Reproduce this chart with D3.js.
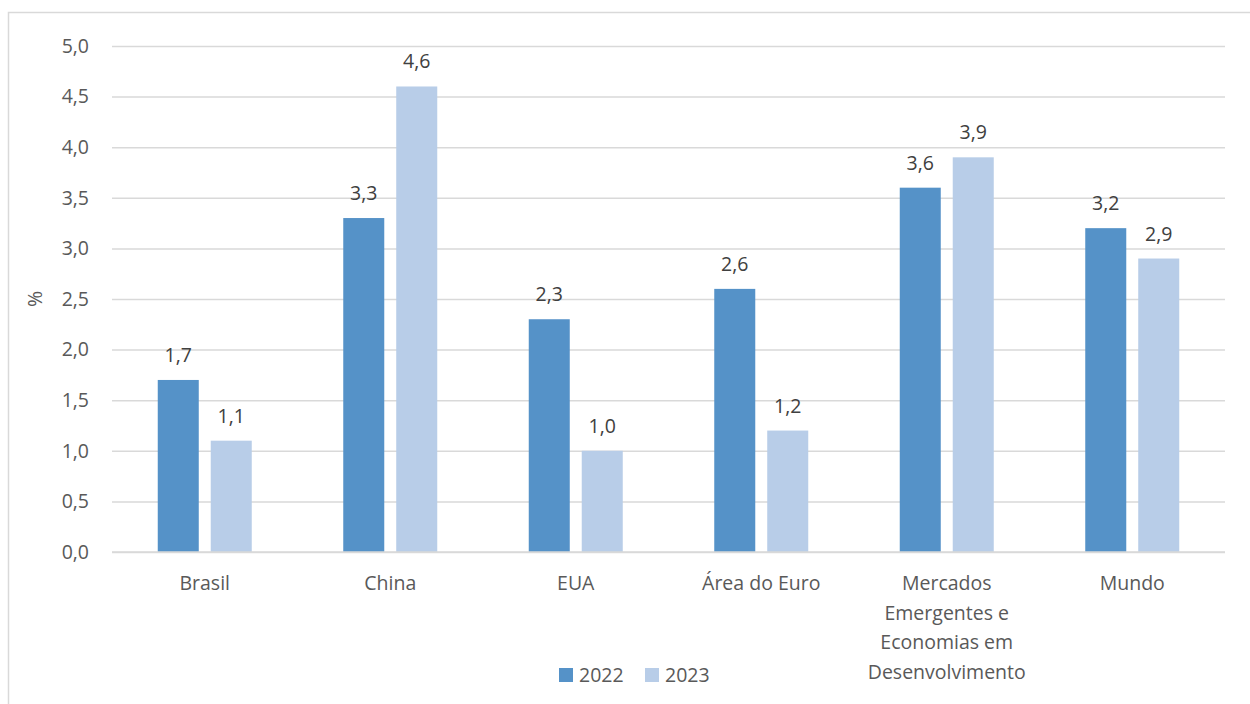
<!DOCTYPE html>
<html>
<head>
<meta charset="utf-8">
<script src="https://cdn.jsdelivr.net/npm/d3@7"></script>
<style>
  body { margin: 0; background: #fff; }
  svg text { font-family: "Open Sans", "Noto Sans", sans-serif; }
</style>
</head>
<body>
<div id="chart"></div>
<script>
// categories and series
const categories = ["Brasil", "China", "EUA", "Área do Euro",
  "Mercados Emergentes e Economias em Desenvolvimento", "Mundo"];
const catLines = [["Brasil"], ["China"], ["EUA"], ["Área do Euro"],
  ["Mercados", "Emergentes e", "Economias em", "Desenvolvimento"], ["Mundo"]];
const series = ["2022", "2023"];
const values2022 = [1.7, 3.3, 2.3, 2.6, 3.6, 3.2];
const values2023 = [1.1, 4.6, 1.0, 1.2, 3.9, 2.9];
const yTicks = [0, 0.5, 1, 1.5, 2, 2.5, 3, 3.5, 4, 4.5, 5];
const colors = ["#5592c8", "#b8cde8"];

const W = 1250, H = 704;
const margin = {top: 46, right: 25, bottom: 152, left: 112};
const width = W - margin.left - margin.right;
const height = H - margin.top - margin.bottom;
const fs = "19.5px";

const svg = d3.select("#chart").append("svg")
  .attr("width", W).attr("height", H);

// outer frame
svg.append("rect")
  .attr("x", 8.5).attr("y", 12.5)
  .attr("width", W + 10).attr("height", H + 10)
  .attr("fill", "none").attr("stroke", "#d9d9d9").attr("stroke-width", 1.5);

const g = svg.append("g").attr("transform", `translate(${margin.left},${margin.top})`);

const x = d3.scaleBand().domain(categories).range([0, width]);
const x1 = d3.scaleBand().domain(series).range([45.75, x.bandwidth() - 45.75]).paddingInner(0.226);
const y = d3.scaleLinear().domain([0, 5]).range([height, 0]);

const fmt = v => d3.format(".1f")(v).replace(".", ",");

// gridlines
g.append("g")
  .call(d3.axisLeft(y).tickValues(yTicks).tickSize(-width).tickFormat(fmt))
  .call(a => a.select(".domain").remove())
  .call(a => a.selectAll(".tick line").attr("stroke", "#d9d9d9").attr("stroke-width", 1.5))
  .call(a => a.selectAll(".tick text").attr("fill", "#595959").style("font-size", fs)
    .attr("x", -23));

const data = categories.map((c, i) => ({cat: c, vals: [values2022[i], values2023[i]]}));

const groups = g.selectAll(".grp").data(data).enter().append("g")
  .attr("transform", d => `translate(${x(d.cat)},0)`);

groups.selectAll("rect").data(d => d.vals.map((v, j) => ({s: series[j], v}))).enter()
  .append("rect")
  .attr("x", d => x1(d.s))
  .attr("width", x1.bandwidth())
  .attr("y", d => y(d.v))
  .attr("height", d => height - y(d.v))
  .attr("fill", (d, j) => colors[j]);

groups.selectAll(".lbl").data(d => d.vals.map((v, j) => ({s: series[j], v}))).enter()
  .append("text")
  .attr("x", d => x1(d.s) + x1.bandwidth() / 2)
  .attr("y", d => y(d.v) - 18)
  .attr("text-anchor", "middle")
  .attr("fill", "#404040")
  .style("font-size", fs)
  .text(d => fmt(d.v));

// baseline
g.append("line")
  .attr("x1", 0).attr("x2", width)
  .attr("y1", height).attr("y2", height)
  .attr("stroke", "#d9d9d9").attr("stroke-width", 1.5);

// category labels
categories.forEach((c, i) => {
  const t = g.append("text")
    .attr("x", x(c) + x.bandwidth() / 2)
    .attr("y", height + 38)
    .attr("text-anchor", "middle")
    .attr("fill", "#595959")
    .style("font-size", fs);
  catLines[i].forEach((ln, k) => {
    t.append("tspan").attr("x", x(c) + x.bandwidth() / 2)
      .attr("dy", k === 0 ? 0 : 29.5).text(ln);
  });
});

// y axis title
svg.append("text")
  .attr("transform", `translate(42,${margin.top + height / 2}) rotate(-90)`)
  .attr("text-anchor", "middle")
  .attr("fill", "#595959")
  .style("font-size", fs)
  .text("%");

// legend
const legend = svg.append("g").attr("transform", "translate(559,675)");
series.forEach((s, i) => {
  const lg = legend.append("g").attr("transform", `translate(${i * 86},0)`);
  lg.append("rect").attr("x", 0).attr("y", -7).attr("width", 14).attr("height", 14).attr("fill", colors[i]);
  lg.append("text").attr("x", 20).attr("y", 7).attr("fill", "#595959")
    .style("font-size", fs).text(s);
});
</script>
</body>
</html>
